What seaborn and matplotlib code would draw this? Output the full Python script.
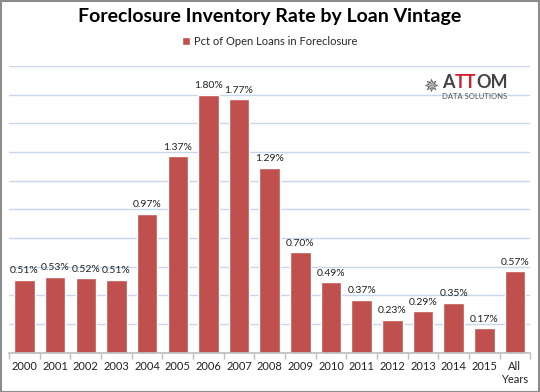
import numpy as np
import pandas as pd
import seaborn as sns
import matplotlib.pyplot as plt
from matplotlib.patches import Rectangle
from matplotlib.offsetbox import TextArea, HPacker, VPacker, AnchoredOffsetbox

sns.set_theme(style="white")
plt.rcParams['font.family'] = ['Lato', 'DejaVu Sans']

vintages = ["2000", "2001", "2002", "2003", "2004", "2005", "2006", "2007", "2008",
            "2009", "2010", "2011", "2012", "2013", "2014", "2015", "All\nYears"]
rates = [0.51, 0.53, 0.52, 0.51, 0.97, 1.37, 1.80, 1.77, 1.29,
         0.70, 0.49, 0.37, 0.23, 0.29, 0.35, 0.17, 0.57]
series_name = "Pct of Open Loans in Foreclosure"

df = pd.DataFrame({"vintage": vintages, "rate": rates})
bar_color = "#C0504D"

fig = plt.figure(figsize=(5.4, 3.92), dpi=100)
ax = fig.add_axes([0.017, 0.1, 0.965, 0.732])

sns.barplot(data=df, x="vintage", y="rate", color=bar_color, width=0.67,
            saturation=1, ax=ax, label=series_name)

ax.set_ylim(0, 2.0)
ax.set_xlim(-0.5, len(vintages) - 0.5)
ax.set_yticks(np.arange(0, 2.01, 0.2))
ax.yaxis.grid(True, color="#C6D7EE", linewidth=1)
ax.set_axisbelow(True)
ax.tick_params(axis="y", left=False, labelleft=False)
ax.set_xlabel("")
ax.set_ylabel("")
for side in ["top", "right", "left"]:
    ax.spines[side].set_visible(False)
ax.spines["bottom"].set_color("#BFBFBF")

# Excel-style tick marks between categories
ax.set_xticks(np.arange(len(vintages)))
ax.set_xticklabels(vintages, fontsize=8, color="#222222")
ax.tick_params(axis="x", length=0, pad=6)
ax.set_xticks(np.arange(-0.5, len(vintages), 1), minor=True)
ax.tick_params(axis="x", which="minor", length=4, color="#BFBFBF", bottom=True)

for i, v in enumerate(rates):
    ax.text(i, v + 0.03, f"{v:.2f}%", ha="center", va="bottom", fontsize=7.5, color="#222222")

fig.suptitle("Foreclosure Inventory Rate by Loan Vintage", y=0.98, fontsize=14,
             fontweight="bold", color="black")
ax.legend(loc="lower center", bbox_to_anchor=(0.5, 1.03), frameon=False, fontsize=8,
          handlelength=0.7, handleheight=0.7, handletextpad=0.4)

# logo
big = dict(fontsize=13, fontweight="bold")
word = HPacker(children=[
    TextArea("A", textprops=dict(color="#444444", **big)),
    TextArea("TT", textprops=dict(color="#D0202E", **big)),
    TextArea("OM", textprops=dict(color="#444444", **big)),
], sep=0, pad=0, align="baseline")
logo_txt = VPacker(children=[word, TextArea("DATA SOLUTIONS",
                   textprops=dict(fontsize=5.5, color="#555555"))], sep=1, pad=0, align="left")
icon = TextArea("\u2735", textprops=dict(fontsize=13, color="#555555", family=["DejaVu Sans"]))
logo = HPacker(children=[icon, logo_txt], sep=3, pad=0, align="center")
anch = AnchoredOffsetbox(loc="upper right", child=logo, pad=0, frameon=False,
                         bbox_to_anchor=(0.955, 0.83), bbox_transform=fig.transFigure)
ax.add_artist(anch)

fig.patches.append(Rectangle((0.001, 0.001), 0.997, 0.997, transform=fig.transFigure,
                             fill=False, edgecolor="#8C8C8C", linewidth=1.5))

fig.savefig("out.png", dpi=100)
